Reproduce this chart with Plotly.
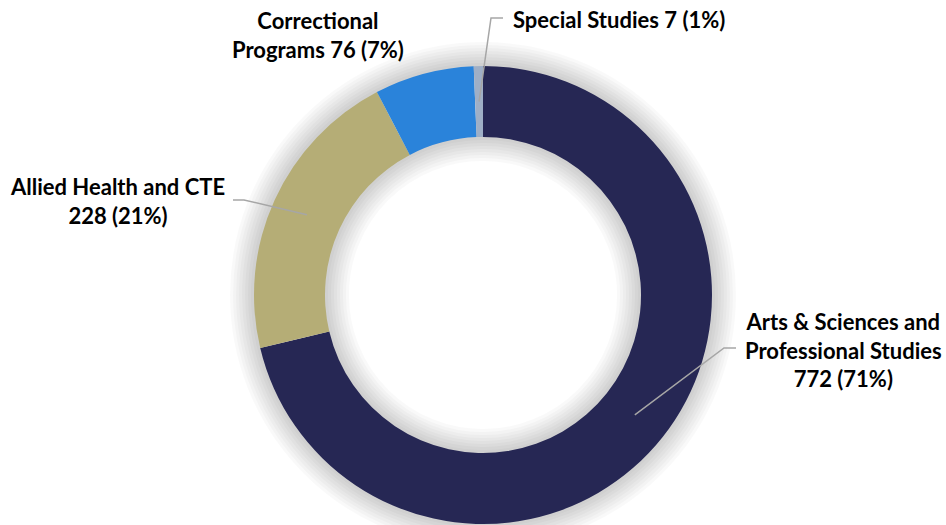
import math

import plotly.graph_objects as go

# data
categories = [
    "Arts & Sciences and Professional Studies",
    "Allied Health and CTE",
    "Correctional Programs",
    "Special Studies",
]
enrollment = [772, 228, 76, 7]
label_text = [
    "Arts & Sciences and<br>Professional Studies<br>772 (71%)",
    "Allied Health and CTE<br>228 (21%)",
    "Correctional<br>Programs 76 (7%)",
    "Special Studies 7 (1%)",
]
colors = ["#262754", "#B5AD76", "#2A83DA", "#9FAFC6"]

W, H = 946, 525
CX, CY = 483, 295  # donut centre, px from top-left
R_OUT = 229
HOLE = 0.69
R_IN = R_OUT * HOLE
FONT = "Lato"


def px_to_paper(x, y):
    return x / W, 1 - y / H


def ring_point(angle_deg, r):
    """angle measured clockwise from 12 o'clock"""
    a = math.radians(angle_deg)
    return CX + r * math.sin(a), CY - r * math.cos(a)


fig = go.Figure()

# soft glow around the ring, drawn as stacked translucent circles
shapes = []
for spread in [3, 6, 9, 12, 15, 18, 21, 24]:
    for r in (R_OUT, R_IN):
        x0, y0 = px_to_paper(CX - r, CY + r)
        x1, y1 = px_to_paper(CX + r, CY - r)
        shapes.append(
            dict(
                type="circle",
                xref="paper",
                yref="paper",
                x0=x0,
                y0=y0,
                x1=x1,
                y1=y1,
                line=dict(color="rgba(0,0,0,0.022)", width=2 * spread),
                layer="below",
            )
        )

fig.add_trace(
    go.Pie(
        labels=categories,
        values=enrollment,
        hole=HOLE,
        sort=False,
        direction="clockwise",
        rotation=0,
        marker=dict(colors=colors, line=dict(width=0)),
        textinfo="none",
        hoverinfo="label+value+percent",
        showlegend=False,
        domain=dict(
            x=[(CX - R_OUT) / W, (CX + R_OUT) / W],
            y=[(H - CY - R_OUT) / H, (H - CY + R_OUT) / H],
        ),
    )
)

# leader lines + labels, anchored at each slice's mid angle
total = sum(enrollment)
mids = []
acc = 0
for v in enrollment:
    mids.append((acc + v / 2) / total * 360)
    acc += v

r_mid = (R_OUT + R_IN) / 2
# elbow / end point of each leader line and label placement (px)
label_cfg = [
    dict(elbow=(724, 348), end=(736, 348), pos=(843, 350), xanchor="center", align="center"),
    dict(elbow=(244, 200), end=(233, 200), pos=(117, 201), xanchor="center", align="center"),
    dict(elbow=None, end=None, pos=(318, 35), xanchor="center", align="center"),
    dict(elbow=(491, 18), end=(503, 18), pos=(511, 20), xanchor="left", align="left"),
]

for i, cfg in enumerate(label_cfg):
    if cfg["elbow"] is not None:
        sx, sy = ring_point(mids[i], r_mid)
        pts = [(sx, sy), cfg["elbow"], cfg["end"]]
        path = ""
        for j, (px, py) in enumerate(pts):
            qx, qy = px_to_paper(px, py)
            path += ("M" if j == 0 else " L") + f" {qx:.5f},{qy:.5f}"
        shapes.append(
            dict(
                type="path",
                xref="paper",
                yref="paper",
                path=path,
                line=dict(color="#A6A6A6", width=1.5),
                layer="above",
            )
        )
    lx, ly = px_to_paper(*cfg["pos"])
    fig.add_annotation(
        x=lx,
        y=ly,
        xref="paper",
        yref="paper",
        text=f"<b>{label_text[i]}</b>",
        showarrow=False,
        xanchor=cfg["xanchor"],
        yanchor="middle",
        align=cfg["align"],
        font=dict(family=FONT, size=22, color="#000000"),
    )

fig.update_layout(
    width=W,
    height=H,
    margin=dict(l=0, r=0, t=0, b=0),
    paper_bgcolor="white",
    plot_bgcolor="white",
    shapes=shapes,
)

# drop the browser's default 8px body margin so the chart sits at 0,0
fig.write_html(
    "out.html",
    config={"displayModeBar": False},
    post_script="document.body.style.margin='0';",
)
